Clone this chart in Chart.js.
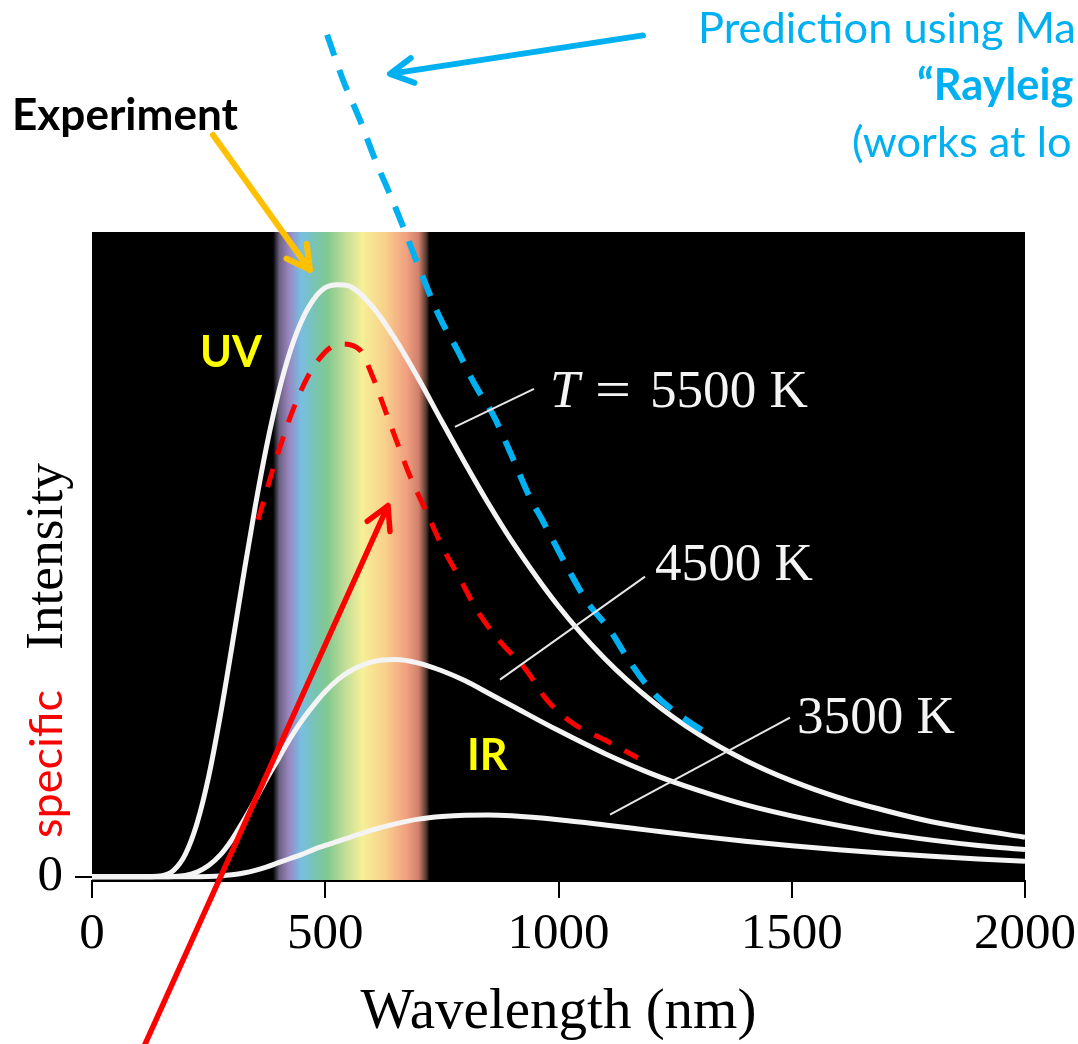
<!DOCTYPE html>
<html>
<head>
<meta charset="utf-8">
<script src="https://cdn.jsdelivr.net/npm/chart.js@4.4.1/dist/chart.umd.min.js"></script>
<style>
  html, body { margin: 0; padding: 0; background: #fff; overflow: hidden; }
  canvas { display: block; }
</style>
</head>
<body>
<canvas id="c" width="1078" height="1044"></canvas>
<script>
// ── DATA ────────────────────────────────────────────────────────────────────────

const waveNm = [0, 100, 150, 175, 200, 225, 250, 275, 300, 325, 350, 375, 400, 425, 450, 475, 500, 527, 550,
  600, 650, 700, 750, 800, 850, 900, 1000, 1100, 1200, 1300, 1400, 1500, 1600, 1700, 1800, 1900, 2000];
const t5500 = [0, 0, 0.2, 1.1, 3.8, 9.0, 16.9, 27.2, 38.9, 51.0, 62.6, 73.0, 81.8, 88.8, 94.0, 97.5, 99.5, 100, 99.8,
  96.4, 90.8, 84.1, 76.9, 69.8, 63.0, 56.7, 45.7, 36.8, 29.7, 24.1, 19.7, 16.2, 13.4, 11.2, 9.3, 7.9, 6.7];
const t4500 = [0, 0, 0, 0.05, 0.25, 0.8, 1.9, 3.7, 6.3, 9.5, 13.0, 16.6, 20.0, 23.4, 26.4, 29.0, 31.3, 33.3, 34.6,
  36.3, 36.7, 36.1, 34.8, 33.1, 31.0, 28.9, 24.7, 20.8, 17.4, 14.6, 12.2, 10.3, 8.7, 7.3, 6.2, 5.3, 4.6];
const t3500 = [0, 0, 0, 0, 0, 0.02, 0.06, 0.16, 0.35, 0.65, 1.1, 1.7, 2.4, 3.1, 3.8, 4.6, 5.3, 6.0, 6.6,
  7.9, 8.95, 9.75, 10.2, 10.42, 10.45, 10.3, 9.64, 8.76, 7.81, 6.88, 6.02, 5.25, 4.57, 3.98, 3.47, 3.03, 2.65];

// red dashed "specific" curve
const specificNm  = [356, 394, 435, 478, 532, 574, 600, 628, 652, 682, 716, 750, 789, 827, 872, 930, 975, 1033, 1100, 1170];
const specificVal = [60.3, 70.4, 79.7, 86.5, 90.0, 89.0, 84.8, 78.9, 73.8, 67.6, 61.8, 55.9, 50.3, 44.8, 40.0, 35.0, 29.9, 25.8, 23.1, 20.1];

// blue dashed Rayleigh-Jeans prediction
const rjNm  = [504, 538, 574, 607, 639, 671, 703, 746, 785, 821, 860, 896, 939, 965, 1018, 1061, 1110, 1153, 1203, 1265, 1331];
const rjVal = [142.2, 134.6, 127.9, 121.1, 115.2, 109.0, 102.5, 94.4, 88.7, 83.1, 78.0, 71.8, 64.0, 60.3, 52.4, 46.5, 41.7, 36.3, 31.1, 27.0, 23.6];

const xTicks = [0, 500, 1000, 1500, 2000];
const yTicks = [0];
const visibleBand = [388, 724];   // nm

// annotation anchors, in data units (nm, intensity)
const leaderLines = [[778, 76.0, 947.5, 82.4], [874.6, 33.3, 1185.4, 50.7], [1110.4, 10.5, 1496.2, 26.9]];
const tempLabels = [['4500 K', 1206.9, 50.2], ['3500 K', 1511.3, 24.3]];
const t5500Label = { t: [981.8, 79.4], eq: [1078, 79.4], val: [1196.1, 79.4] };
const bandLabels = [['UV', 231.5, 86.1], ['IR', 803.9, 18.1]];
const arrows = [
  { from: [259.4, 125.3], to: [467.3, 102.5], color: '#ffc000', width: 6 },
  { from: [1181.1, 142.1], to: [638.8, 135.6], color: '#00b0f0', width: 6 },
  { from: [98.6, -30.9], to: [634.5, 62.7], color: '#ff0000', width: 5.5 }
];

// ── HELPERS ─────────────────────────────────────────────────────────────────────

const SERIF = "'Liberation Serif', 'Times New Roman', serif";
const SANS = "Lato, 'Open Sans', sans-serif";

function fitSize(ctx, text, pre, family, w) {
  ctx.font = `${pre} 100px ${family}`;
  return 100 * w / ctx.measureText(text).width;
}

function drawArrow(ctx, a, b, color, w, head) {
  const ang = Math.atan2(b[1] - a[1], b[0] - a[0]);
  ctx.strokeStyle = color;
  ctx.lineWidth = w;
  ctx.lineCap = 'round';
  ctx.lineJoin = 'round';
  ctx.beginPath();
  ctx.moveTo(a[0], a[1]);
  ctx.lineTo(b[0], b[1]);
  ctx.moveTo(b[0] - head * Math.cos(ang - 0.5), b[1] - head * Math.sin(ang - 0.5));
  ctx.lineTo(b[0], b[1]);
  ctx.lineTo(b[0] - head * Math.cos(ang + 0.5), b[1] - head * Math.sin(ang + 0.5));
  ctx.stroke();
}

const pts = (xs, ys) => xs.map((x, i) => ({ x, y: ys[i] }));

// ── PLUGINS ─────────────────────────────────────────────────────────────────────

const plotBg = {
  id: 'plotBg',
  beforeDraw(chart) {
    const { ctx, chartArea: a } = chart;
    ctx.save();
    ctx.fillStyle = '#000';
    ctx.fillRect(a.left, a.top, a.right - a.left, a.bottom - a.top);
    ctx.restore();
  },
  beforeDatasetsDraw(chart) {
    // visible spectrum band
    const { ctx, chartArea: a, scales: { x } } = chart;
    const x0 = x.getPixelForValue(visibleBand[0]);
    const x1 = x.getPixelForValue(visibleBand[1]);
    const g = ctx.createLinearGradient(x0, 0, x1, 0);
    [[0, '#000000'], [0.04, '#6a6180'], [0.10, '#9a86c0'], [0.18, '#78bee2'], [0.27, '#78c4b0'],
     [0.35, '#84c990'], [0.47, '#c6df98'], [0.57, '#f6f097'], [0.72, '#f8cf8c'], [0.85, '#f1a080'],
     [0.93, '#d0806a'], [0.975, '#5a3c34'], [1, '#000000']].forEach(([o, c]) => g.addColorStop(o, c));
    ctx.save();
    ctx.fillStyle = g;
    ctx.fillRect(x0, a.top, x1 - x0, a.bottom - a.top - 1);
    ctx.restore();
  }
};

const annot = {
  id: 'annot',
  afterDatasetsDraw(chart) {
    const { ctx, scales: { x, y } } = chart;
    const P = (l, v) => [x.getPixelForValue(l), y.getPixelForValue(v)];
    ctx.save();

    // leader lines
    ctx.strokeStyle = '#e6e6e6';
    ctx.lineWidth = 2;
    leaderLines.forEach(([l1, v1, l2, v2]) => {
      const p = P(l1, v1), q = P(l2, v2);
      ctx.beginPath(); ctx.moveTo(p[0], p[1]); ctx.lineTo(q[0], q[1]); ctx.stroke();
    });

    // temperature labels
    ctx.textAlign = 'left';
    ctx.textBaseline = 'alphabetic';
    ctx.fillStyle = '#f4f4f4';
    const ts = fitSize(ctx, '4500 K', 'normal', SERIF, 158);
    ctx.font = `normal ${ts}px ${SERIF}`;
    tempLabels.forEach(([t, l, v]) => { const p = P(l, v); ctx.fillText(t, p[0], p[1]); });
    let p = P(...t5500Label.val); ctx.fillText('5500 K', p[0], p[1]);
    p = P(...t5500Label.eq);
    ctx.save();
    ctx.translate(p[0], p[1]);
    ctx.scale(1.2, 1);
    ctx.fillText('=', 0, 0);
    ctx.restore();
    ctx.font = `italic ${ts}px ${SERIF}`;
    p = P(...t5500Label.t); ctx.fillText('T', p[0], p[1]);

    // UV / IR
    ctx.fillStyle = '#ffff00';
    ctx.font = `bold ${fitSize(ctx, 'UV', 'bold', SANS, 62)}px ${SANS}`;
    bandLabels.forEach(([t, l, v]) => { const q = P(l, v); ctx.fillText(t, q[0], q[1]); });

    // arrows
    arrows.forEach(a => drawArrow(ctx, P(...a.from), P(...a.to), a.color, a.width, 26));

    // texts outside the plot
    ctx.fillStyle = '#000';
    ctx.font = `bold ${fitSize(ctx, 'Experiment', 'bold', SANS, 226)}px ${SANS}`;
    ctx.fillText('Experiment', 12, 130);

    const bs = fitSize(ctx, 'Prediction using Ma', 'normal', SANS, 378);
    ctx.fillStyle = '#00b0f0';
    ctx.font = `normal ${bs}px ${SANS}`;
    ctx.fillText('Prediction using Ma', 698, 43);
    ctx.fillText('(works at lo', 852, 157);
    ctx.font = `bold ${bs}px ${SANS}`;
    ctx.fillText('\u201cRayleig', 917, 100);

    // y axis title: "specific Intensity"
    ctx.translate(62, 838);
    ctx.rotate(-Math.PI / 2);
    ctx.fillStyle = '#ff0000';
    ctx.font = `normal ${fitSize(ctx, 'specific', 'normal', SANS, 148)}px ${SANS}`;
    ctx.fillText('specific', 0, 0);
    ctx.fillStyle = '#000';
    ctx.font = `normal ${fitSize(ctx, 'Intensity', 'normal', SERIF, 187)}px ${SERIF}`;
    ctx.fillText('Intensity', 188, 0);

    ctx.restore();
  }
};

// ── CHART ───────────────────────────────────────────────────────────────────────

const whiteLine = (label, ys) => ({
  label, data: pts(waveNm, ys), borderColor: '#f4f4f4', borderWidth: 5,
  cubicInterpolationMode: 'monotone', pointRadius: 0, fill: false
});

new Chart(document.getElementById('c').getContext('2d'), {
  type: 'line',
  data: {
    datasets: [
      { label: 'specific', data: pts(specificNm, specificVal), borderColor: '#ff0000', borderWidth: 5,
        borderDash: [19, 15], cubicInterpolationMode: 'monotone', pointRadius: 0, fill: false },
      { label: 'Rayleigh-Jeans', data: pts(rjNm, rjVal), borderColor: '#00b0f0', borderWidth: 6,
        borderDash: [22, 15], cubicInterpolationMode: 'monotone', pointRadius: 0, fill: false, clip: false },
      whiteLine('T = 5500 K', t5500),
      whiteLine('4500 K', t4500),
      whiteLine('3500 K', t3500)
    ]
  },
  options: {
    responsive: false,
    animation: false,
    layout: { padding: { top: 232, right: 53, bottom: 2, left: 0 } },
    plugins: { legend: { display: false }, tooltip: { enabled: false } },
    scales: {
      x: {
        type: 'linear', min: 0, max: 2000,
        afterBuildTicks: s => { s.ticks = xTicks.map(value => ({ value })); },
        afterFit: s => { s.height = 161; s.paddingLeft = 0; s.paddingRight = 0; },
        ticks: { color: '#000', font: { family: SERIF, size: 51 }, padding: 6, maxRotation: 0, autoSkip: false,
          callback: v => String(v) },
        grid: { drawOnChartArea: false, drawTicks: true, tickLength: 17, color: '#000', lineWidth: 2 },
        border: { color: '#000', width: 2 },
        title: { display: true, text: 'Wavelength (nm)', color: '#000',
          font: { family: SERIF, size: 57, lineHeight: 1 }, padding: { top: 0, bottom: 0 } }
      },
      y: {
        min: -0.7, max: 108.9,
        afterBuildTicks: s => { s.ticks = yTicks.map(value => ({ value })); },
        afterFit: s => { s.width = 92; s.paddingTop = 0; s.paddingBottom = 0; },
        ticks: { color: '#000', font: { family: SERIF, size: 51 }, padding: 12, callback: v => String(v) },
        grid: { drawOnChartArea: false, drawTicks: true, tickLength: 17, color: '#000', lineWidth: 2 },
        border: { display: false }
      }
    }
  },
  plugins: [plotBg, annot]
});
</script>
</body>
</html>
